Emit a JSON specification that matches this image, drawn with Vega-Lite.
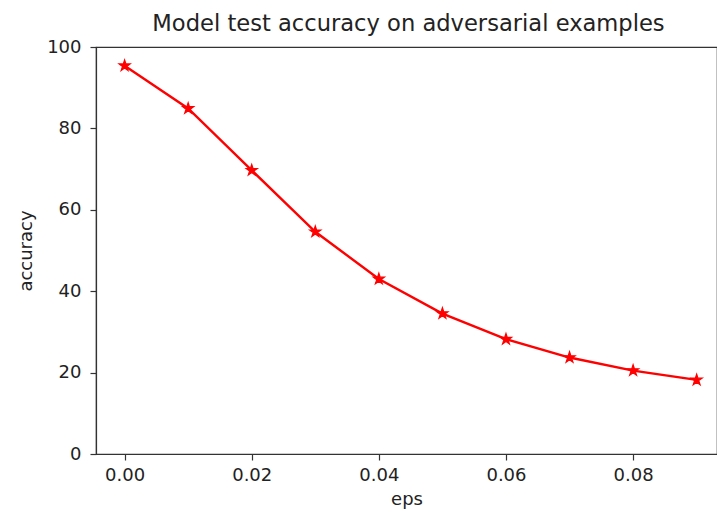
{
  "$schema": "https://vega.github.io/schema/vega-lite/v6.json",
  "width": 621,
  "height": 407,
  "autosize": "none",
  "padding": {"left": 96, "top": 47, "right": 0, "bottom": 58},
  "background": "white",
  "title": {
    "text": "Model test accuracy on adversarial examples",
    "font": "DejaVu Sans",
    "fontSize": 22.6,
    "fontWeight": "normal",
    "color": "#222",
    "anchor": "middle",
    "offset": 2,
    "frame": "group",
    "dx": 2
  },
  "config": {
    "view": {"stroke": "#333", "strokeWidth": 1.2},
    "axis": {
      "grid": false,
      "domainColor": "#333",
      "domainWidth": 1.2,
      "tickColor": "#333",
      "tickWidth": 1.2,
      "tickSize": 6,
      "labelFont": "DejaVu Sans",
      "labelFontSize": 18,
      "labelColor": "#222",
      "labelPadding": 9,
      "titleFont": "DejaVu Sans",
      "titleFontSize": 18,
      "titleFontWeight": "normal",
      "titleColor": "#222"
    }
  },
  "data": {
    "values": [
      {"eps": 0.00, "accuracy": 95.4},
      {"eps": 0.01, "accuracy": 84.9},
      {"eps": 0.02, "accuracy": 69.7},
      {"eps": 0.03, "accuracy": 54.6},
      {"eps": 0.04, "accuracy": 43.0},
      {"eps": 0.05, "accuracy": 34.5},
      {"eps": 0.06, "accuracy": 28.2},
      {"eps": 0.07, "accuracy": 23.7},
      {"eps": 0.08, "accuracy": 20.5},
      {"eps": 0.09, "accuracy": 18.2}
    ]
  },
  "encoding": {
    "x": {
      "field": "eps",
      "type": "quantitative",
      "scale": {"domain": [-0.0045, 0.0932], "nice": false, "zero": false},
      "axis": {"values": [0, 0.02, 0.04, 0.06, 0.08], "format": ".2f", "title": "eps", "titlePadding": 6, "labelPadding": 6}
    },
    "y": {
      "field": "accuracy",
      "type": "quantitative",
      "scale": {"domain": [0, 100], "nice": false},
      "axis": {"values": [0, 20, 40, 60, 80, 100], "title": "accuracy", "titlePadding": 11}
    }
  },
  "layer": [
    {"mark": {"type": "line", "color": "#ff0000", "strokeWidth": 2.4}},
    {
      "mark": {
        "type": "point",
        "shape": "M0,-1L0.2245,-0.309L0.951,-0.309L0.363,0.118L0.588,0.809L0,0.382L-0.588,0.809L-0.363,0.118L-0.951,-0.309L-0.2245,-0.309Z",
        "filled": true,
        "color": "#ff0000",
        "stroke": "#ff0000",
        "strokeWidth": 1.2,
        "opacity": 1,
        "size": 135
      }
    }
  ]
}
